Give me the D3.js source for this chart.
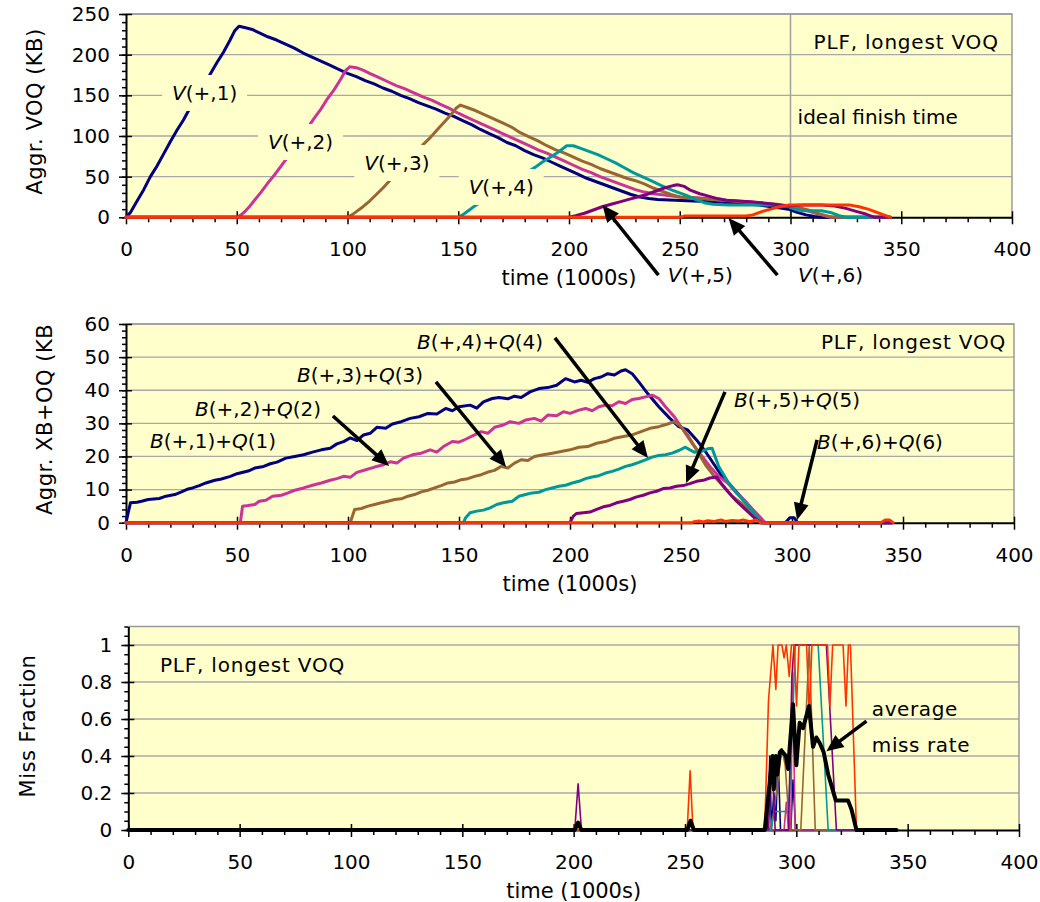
<!DOCTYPE html>
<html><head><meta charset="utf-8">
<script src="https://cdn.jsdelivr.net/npm/d3@7"></script>
<style>
body{margin:0;background:#fff;}
svg text{font-family:"DejaVu Sans",Verdana,sans-serif;fill:#000;}
</style></head><body>
<svg id="chart" width="1040" height="902"></svg>
<script>
// ---------------- data ----------------
const xTickValues = [0,50,100,150,200,250,300,350,400];
const voqTicks = [0,50,100,150,200,250];
const xbTicks = [0,10,20,30,40,50,60];
const missTicks = [0,0.2,0.4,0.6,0.8,1];
const missTickLabels = ["0","0.2","0.4","0.6","0.8","1"];
const seriesColors = ["#000080","#CC3399","#996633","#009999","#800080","#FF3300"];
const xTitle = "time (1000s)";
const panelNote = "PLF, longest VOQ";
const idealFinish = 300;

// Top: aggregate VOQ (KB)
const V1 = [[0,0],[2,6],[5,20],[8,34],[11,50],[14,63],[17,78],[20,93],[23,107],[26,120],[29,135],[32,149],[35,162],[38,176],[41,190],[44,203],[47,218],[49,229],[51,235],[54,233],[57,231],[60,227],[64,222],[68,218],[72,213],[76,208],[80,202],[84,197],[88,192],[92,187],[96,182],[100,177],[104,173],[108,168],[112,164],[116,159],[120,155],[124,150],[128,146],[132,141],[136,137],[140,133],[144,128],[148,124],[152,119],[156,114],[160,108],[164,103],[168,98],[172,92],[176,88],[180,82],[184,77],[188,73],[192,68],[196,63],[200,58],[204,53],[208,48],[212,44],[216,40],[220,36],[224,32],[228,28],[232,25],[236,23],[240,22],[248,21],[256,20],[266,19],[276,17],[286,15],[294,12],[299,10],[303,6],[307,3],[311,1],[314,0],[345,0]];
const V2 = [[0,0],[50,0],[52,3],[54,8],[56,14],[58,21],[61,31],[64,42],[67,52],[70,63],[73,74],[76,86],[79,98],[82,110],[85,122],[88,133],[91,146],[94,157],[97,170],[99,180],[101,185],[104,184],[107,181],[110,177],[114,172],[118,167],[122,162],[126,158],[130,153],[134,148],[138,144],[142,139],[146,134],[150,128],[154,123],[158,118],[162,113],[166,108],[170,103],[174,98],[178,93],[182,88],[186,83],[190,79],[194,74],[198,69],[202,64],[206,59],[210,55],[214,50],[218,46],[222,42],[226,38],[230,34],[234,31],[238,29],[244,27],[250,25],[258,24],[266,22],[276,20],[286,18],[294,15],[300,13],[305,10],[310,6],[314,3],[318,0],[345,0]];
const V3 = [[0,0],[100,0],[102,3],[104,7],[107,13],[110,20],[113,28],[116,36],[119,45],[122,53],[125,62],[128,71],[131,80],[134,89],[137,97],[140,106],[143,115],[146,124],[149,134],[151,138],[154,135],[158,131],[162,126],[166,121],[170,116],[174,111],[178,104],[182,99],[186,94],[190,88],[194,83],[198,79],[202,74],[206,69],[210,65],[214,60],[218,56],[222,52],[226,48],[230,45],[234,41],[238,36],[242,32],[246,28],[250,25],[256,24],[264,22],[274,20],[284,18],[294,16],[302,13],[308,9],[312,5],[316,2],[319,0],[345,0]];
const V4 = [[0,0],[150,0],[152,3],[155,9],[158,15],[161,20],[164,25],[167,31],[170,36],[173,41],[176,47],[179,52],[182,57],[185,62],[188,68],[191,73],[194,78],[197,84],[199,88],[202,88],[205,85],[209,81],[213,77],[217,72],[221,67],[225,61],[229,55],[233,50],[237,45],[241,40],[245,35],[249,31],[253,27],[257,22],[261,18],[265,16],[272,15],[282,15],[292,15],[298,14],[302,10],[306,8],[314,8],[318,6],[322,2],[325,0],[345,0]];
const V5 = [[0,0],[200,0],[203,2],[207,5],[211,9],[215,13],[219,16],[223,19],[227,22],[231,25],[235,28],[239,32],[243,36],[247,39],[249,40],[252,38],[255,33],[259,29],[263,26],[267,23],[271,21],[276,20],[282,19],[290,17],[298,14],[306,15],[314,15],[320,14],[325,11],[330,7],[334,4],[338,0],[345,0]];
const V6 = [[0,0],[250,0],[252,1.5],[260,1.5],[270,1.5],[280,1.5],[283,3],[287,7],[291,10],[295,13],[299,15],[310,15],[320,15],[327,15],[331,13],[335,10],[339,6],[343,2],[345,0]];

// Middle: aggregate XB+OQ (KB)
const B1 = [[0,0],[1,3],[2,6],[5,6.2],[7,6.5],[10,7],[15,7.3],[18,8],[22,8.5],[25,9.3],[28,10.2],[30,10.5],[33,11.2],[36,12],[40,12.8],[43,13.2],[47,14],[50,14.8],[55,15.6],[58,16.5],[62,17],[65,17.8],[68,18.3],[72,19.5],[76,20],[80,20.5],[84,21.3],[88,22],[92,22.5],[95,23.8],[98,24.5],[101,25.6],[104,24.8],[107,26.5],[110,27],[113,28.8],[117,28.5],[120,29.8],[124,30.5],[128,31.5],[132,32],[136,33],[140,32.8],[144,34.5],[147,33.8],[150,35],[155,35.5],[158,34.6],[161,36.5],[165,37.5],[168,37.8],[172,37.4],[175,38.2],[178,37.8],[182,39.5],[186,40.5],[190,40.8],[194,41.5],[198,43.5],[202,42.5],[205,43],[208,42.4],[211,43.5],[214,44],[217,45],[220,44.6],[223,45.8],[225,46.2],[228,45],[231,42.5],[235,39],[240,35],[245,31.5],[249,29],[253,28],[257,25],[261,21.5],[265,17.5],[268,14.5],[272,11.5],[276,8.5],[280,5.5],[284,2.5],[287,0],[297,0],[299,1.5],[301,1.5],[302.5,0],[345,0]];
const B2 = [[0,0],[51.5,0],[52.5,5],[55,5.2],[58,5.5],[60,6.5],[63,6.8],[66,8],[70,8.3],[73,9],[76,9.8],[80,10.5],[84,11.3],[88,12],[92,12.8],[95,13.3],[98,14],[101,13.7],[104,15.2],[108,16],[112,16.8],[116,17.5],[119,18.4],[122,18],[125,19.5],[129,20.5],[133,21],[137,22],[140,21.3],[143,23],[147,24.5],[150,24.3],[153,25.2],[157,26.5],[160,27.5],[163,27],[166,28.8],[170,29.5],[173,30.5],[177,30],[180,31],[184,31.5],[187,30.7],[190,32.5],[194,32.3],[197,33.5],[200,33],[204,34],[207,34.5],[210,33.8],[213,35],[216,35.5],[219,35.3],[222,36.5],[225,36],[228,37.2],[231,37.5],[234,38],[237,38.5],[240,37.5],[243,35],[247,32],[251,28],[255,24],[259,20.5],[263,17],[267,14],[271,12],[275,9],[279,6.5],[283,3.5],[288,0],[345,0]];
const B3 = [[0,0],[101,0],[102,2],[103,4],[106,4.3],[109,5],[112,5.5],[115,6],[118,6.5],[121,7],[124,7.2],[127,8],[130,8.5],[133,9.3],[136,9.8],[139,10.5],[142,11.2],[145,12],[148,12.3],[151,13],[154,13.3],[157,14],[160,14.5],[163,15.3],[166,15.8],[169,17],[172,16.5],[175,18],[178,19],[181,18.8],[184,20],[188,20.5],[192,21],[196,21.5],[200,22],[204,22.8],[208,23],[212,24],[216,24.5],[220,25.5],[224,26],[228,26.5],[232,27.5],[236,28.5],[240,29],[244,29.8],[247,30.5],[250,29],[253,26.5],[257,22],[261,17.5],[265,14],[269,11],[273,8],[277,6],[281,3.5],[286,0],[345,0]];
const B4 = [[0,0],[152,0],[153,1.5],[155,3],[158,3.5],[161,3.8],[164,4.5],[167,5.5],[170,6],[174,6.5],[177,8],[180,8.5],[183,9],[186,9.2],[189,10],[192,10.5],[195,11],[198,11.3],[201,12],[204,12.5],[207,13.3],[210,13.8],[213,14.2],[216,15],[219,15.5],[222,16.2],[225,17],[228,17.5],[231,18.2],[234,19],[237,19.8],[240,20.3],[243,20.5],[246,21],[249,21.8],[252,22.8],[254,22],[256,21.3],[259,21.5],[262,22.3],[264,22.5],[267,17],[271,12.5],[275,9],[279,6],[283,3],[286,0],[345,0]];
const B5 = [[0,0],[200,0],[201.5,2],[203,2.8],[206,3],[209,3.2],[212,4],[215,4.8],[218,5.2],[221,6],[224,6.5],[227,7],[230,7.8],[233,8.3],[236,9],[239,9.5],[242,10.3],[245,10.5],[248,11],[251,11.2],[254,11.8],[257,12.5],[260,12.8],[263,13.5],[266,13.8],[268,12],[271,9.5],[275,6.5],[279,4],[283,1.5],[286,0],[345,0]];
const B6 = [[0,0],[255,0],[256,0.3],[258,0.5],[260,0.2],[262,0.6],[265,0.4],[268,0.8],[270,0.4],[273,0.7],[276,0.5],[278,0.8],[281,0.3],[284,0.8],[286,0],[340,0],[342,0.8],[344,0.8],[345.5,0]];

// Bottom: miss fraction
const M1 = [[0,0],[287,0],[288.1,0.4],[288.8,0],[289.9,0.2],[290.8,0.05],[291.8,0.4],[292.9,0],[297.5,0],[298.5,0.27],[299.7,0],[345,0]];
const M2 = [[0,0],[294.5,0],[295.5,0.15],[296.5,0],[297.5,0],[298.3,0.85],[299.5,0],[345,0]];
const M3 = [[0,0],[288,0],[290,0.1],[293.5,0.44],[295,0.35],[297,0],[302,0],[305.8,1],[308.5,0],[345,0]];
const M4 = [[0,0],[288.5,0],[290.3,0.1],[296.5,0.1],[298.5,0.65],[299.5,1],[309.8,1],[314.3,0],[345,0]];
const M5 = [[0,0],[200.5,0],[202,0.25],[203.5,0],[287.5,0],[289,0.4],[290.5,0],[296.5,0],[298,0.83],[299,1],[313.5,1],[318,0],[345,0]];
const M6 = [[0,0],[251,0],[252.3,0.32],[253.6,0],[285.8,0],[287.5,0.7],[289.5,1],[290.8,0.76],[291.8,1],[293.5,1],[294.5,0.93],[295.5,1],[296.8,0.83],[297.8,1],[299,1],[300.1,0.67],[301.2,1],[304.6,1],[305.8,0.62],[307,1],[314,1],[315.1,0.67],[316.3,1],[321,1],[322.3,0.67],[323.4,1],[324.3,1],[327,0],[345,0]];
const MAvg = [[0,0],[200.5,0],[202,0.04],[203.5,0],[251,0],[252.5,0.05],[254,0],[285.8,0],[289.3,0.4],[289.9,0.22],[290.8,0.4],[291.5,0.3],[292.6,0.42],[293.3,0.43],[295.3,0.4],[296.3,0.33],[298.5,0.68],[300,0.35],[301.5,0.58],[303,0.55],[305.7,0.67],[307.5,0.45],[309,0.5],[310.5,0.47],[312.3,0.42],[314.3,0.3],[315.8,0.24],[317.7,0.16],[321,0.16],[323.2,0.16],[324.8,0.11],[327,0],[345,0]];

// ---------------- drawing ----------------
const svg = d3.select("#chart");
const GRID = "#A8A8A8";

function makePanel(p) {
  const x = d3.scaleLinear().domain([0, 400]).range([p.left, p.right]);
  const y = d3.scaleLinear().domain([0, p.ymax]).range([p.bottom, p.top]);
  const g = svg.append("g");
  g.append("rect").attr("x", p.left).attr("y", p.top)
    .attr("width", p.right - p.left).attr("height", p.bottom - p.top).attr("fill", "#FFFFCC");
  g.append("g").selectAll("line").data(p.yTicks.filter(v => v > 0)).join("line")
    .attr("x1", p.left).attr("x2", p.right).attr("y1", d => y(d)).attr("y2", d => y(d))
    .attr("stroke", GRID).attr("stroke-width", 1.3);
  g.append("path").attr("d", `M${p.left},${p.top}H${p.right}V${p.bottom}`)
    .attr("fill", "none").attr("stroke", "#999").attr("stroke-width", 1.5);
  return {g, x, y, p};
}

function styleAxis(a) {
  a.selectAll(".tick line").attr("stroke", "#000").attr("stroke-width", 1.5);
  a.selectAll("text").attr("font-size", 20).attr("font-family", "DejaVu Sans, Verdana, sans-serif").attr("fill", "#000");
  a.attr("font-family", null).attr("font-size", null);
}

function drawAxes(P, yMinor, yTicks, yLabels) {
  const {g, x, y, p} = P;
  const minorX = d3.range(0, 401, 10).filter(v => v % 50 !== 0);
  g.append("g").attr("transform", `translate(0,${p.bottom})`)
    .call(d3.axisBottom(x).tickValues(minorX).tickSize(5).tickFormat("").tickSizeOuter(0))
    .call(a => { a.select(".domain").remove(); styleAxis(a); });
  g.append("g").attr("transform", `translate(0,${p.bottom})`)
    .call(d3.axisTop(x).tickValues(xTickValues).tickSize(6).tickFormat("").tickSizeOuter(0))
    .call(a => { a.select(".domain").remove(); styleAxis(a); });
  g.append("g").attr("transform", `translate(0,${p.bottom})`)
    .call(d3.axisBottom(x).tickValues(xTickValues).tickSize(7).tickPadding(18).tickSizeOuter(0))
    .call(a => { a.select(".domain").attr("stroke", "#000").attr("stroke-width", 2); styleAxis(a); });

  g.append("g").attr("transform", `translate(${p.left},0)`)
    .call(d3.axisLeft(y).tickValues(yMinor).tickSize(4).tickFormat("").tickSizeOuter(0))
    .call(a => { a.select(".domain").remove(); styleAxis(a); });
  g.append("g").attr("transform", `translate(${p.left},0)`)
    .call(d3.axisRight(y).tickValues(yTicks).tickSize(6).tickFormat("").tickSizeOuter(0))
    .call(a => { a.select(".domain").remove(); styleAxis(a); });
  g.append("g").attr("transform", `translate(${p.left},0)`)
    .call(d3.axisLeft(y).tickValues(yTicks).tickSize(7).tickPadding(9).tickSizeOuter(0)
      .tickFormat((d, i) => yLabels ? yLabels[i] : d))
    .call(a => { a.select(".domain").attr("stroke", "#000").attr("stroke-width", 2); styleAxis(a); });

  g.append("text").attr("x", (p.left + p.right) / 2).attr("y", p.bottom + 61)
    .attr("text-anchor", "middle").attr("dominant-baseline", "central").attr("font-size", 21).text(xTitle);
}

function drawSeries(P, list, width) {
  const line = d3.line().x(d => P.x(d[0])).y(d => P.y(d[1]));
  P.g.append("g").selectAll("path").data(list).join("path")
    .attr("d", d => line(d.values)).attr("fill", "none")
    .attr("stroke", d => d.color).attr("stroke-width", d => d.width || width)
    .attr("stroke-linejoin", "round").attr("stroke-linecap", "round");
}

function richText(P, t, v, parts, opts = {}) {
  const tx = P.g.append("text").attr("x", P.x(t)).attr("y", P.y(v))
    .attr("text-anchor", opts.anchor || "middle").attr("dominant-baseline", "central")
    .attr("font-size", opts.size || 20);
  if (opts.spacing) tx.attr("letter-spacing", opts.spacing);
  parts.forEach(([s, it]) => tx.append("tspan").attr("font-style", it ? "italic" : "normal").text(s));
  return tx;
}

function boxedLabel(P, t, v, parts) {
  P.g.append("rect").attr("x", P.x(t) - 42.5).attr("y", P.y(v) - 18).attr("width", 85).attr("height", 36).attr("fill", "#FFFFCC");
  richText(P, t, v, parts);
}

function arrow(P, t0, v0, t1, v1) {
  const x0 = P.x(t0), y0 = P.y(v0), x1 = P.x(t1), y1 = P.y(v1);
  const dx = x1 - x0, dy = y1 - y0, L = Math.hypot(dx, dy), ux = dx / L, uy = dy / L;
  const hl = 17, hw = 7.5;
  const bx = x1 - ux * hl, by = y1 - uy * hl;
  P.g.append("line").attr("x1", x0).attr("y1", y0).attr("x2", bx + ux * 2).attr("y2", by + uy * 2)
    .attr("stroke", "#000").attr("stroke-width", 3.5);
  P.g.append("path").attr("d", `M${x1},${y1}L${bx - uy * hw},${by + ux * hw}L${bx + uy * hw},${by - ux * hw}Z`).attr("fill", "#000");
}

function yTitle(cx, cy, text, anchor, clipTop) {
  const holder = svg.append("g");
  if (clipTop !== undefined) {
    svg.append("clipPath").attr("id", "clipT").append("rect").attr("x", 0).attr("y", clipTop).attr("width", 100).attr("height", 600);
    holder.attr("clip-path", "url(#clipT)");
  }
  holder.append("text").attr("transform", `translate(${cx},${cy}) rotate(-90)`)
    .attr("text-anchor", anchor).attr("dominant-baseline", "central").attr("font-size", 21)
    .attr("letter-spacing", 0.5).text(text);
}

// ---- Top panel ----
const P1 = makePanel({left: 126, right: 1012, top: 14, bottom: 217.3, ymax: 250, yTicks: voqTicks});
P1.g.append("line").attr("x1", P1.x(idealFinish)).attr("x2", P1.x(idealFinish))
  .attr("y1", P1.y(250)).attr("y2", P1.y(0)).attr("stroke", "#A0A0A0").attr("stroke-width", 1.5);
drawAxes(P1, d3.range(0, 251, 10), voqTicks);
drawSeries(P1, [V1, V2, V3, V4, V5, V6].map((v, i) => ({values: v, color: seriesColors[i]})), 3);
boxedLabel(P1, 35.5, 152.9, [["V", true], ["(+,1)", false]]);
boxedLabel(P1, 78.8, 92.6, [["V", true], ["(+,2)", false]]);
boxedLabel(P1, 122.3, 66.8, [["V", true], ["(+,3)", false]]);
boxedLabel(P1, 169.4, 37.3, [["V", true], ["(+,4)", false]]);
richText(P1, 259.3, -71, [["V", true], ["(+,5)", false]]);
richText(P1, 318.1, -71, [["V", true], ["(+,6)", false]]);
arrow(P1, 240.4, -71, 215.1, 15.1);
arrow(P1, 294.1, -71, 272, -0.9);
richText(P1, 394, 215.6, [[panelNote, false]], {anchor: "end", spacing: 0.8});
richText(P1, 303.2, 123.3, [["ideal finish time", false]], {anchor: "start"});
yTitle(35, 111.5, "Aggr. VOQ (KB)", "middle");

// ---- Middle panel ----
const P2 = makePanel({left: 126, right: 1014, top: 324, bottom: 522.7, ymax: 60, yTicks: xbTicks});
drawAxes(P2, d3.range(0, 61, 2), xbTicks);
drawSeries(P2, [B1, B2, B3, B4, B5, B6].map((v, i) => ({values: v, color: seriesColors[i]})), 3);
const bq = n => [["B", true], [`(+,${n})+`, false], ["Q", true], [`(${n})`, false]];
richText(P2, 39.2, 24.7, bq(1));
richText(P2, 59.5, 34.3, bq(2));
richText(P2, 105.4, 44.6, bq(3));
richText(P2, 159.5, 54.6, bq(4));
richText(P2, 302.3, 37.0, bq(5));
richText(P2, 339.6, 24.4, bq(6));
arrow(P2, 93.2, 32.2, 118.5, 17.1);
arrow(P2, 139.6, 42.5, 171.2, 16.8);
arrow(P2, 193.2, 55.8, 235.1, 19.5);
arrow(P2, 269.8, 39.5, 252.3, 12.0);
arrow(P2, 311.3, 25.0, 302.3, 0.8);
richText(P2, 396.4, 54.6, [[panelNote, false]], {anchor: "end", spacing: 0.8});
yTitle(45, 515, "Aggr. XB+OQ (KB)", "start", 322);

// ---- Bottom panel ----
const P3 = makePanel({left: 128.3, right: 1019, top: 626.5, bottom: 830, ymax: 1.1, yTicks: missTicks});
drawAxes(P3, d3.range(0, 23).map(i => i * 0.05), missTicks, missTickLabels);
drawSeries(P3, [M1, M2, M3, M4, M5, M6].map((v, i) => ({values: v, color: seriesColors[i]})), 1.6);
drawSeries(P3, [{values: MAvg, color: "#000"}], 4);
richText(P3, 14.2, 0.891, [[panelNote, false]], {anchor: "start", spacing: 0.8});
richText(P3, 333.9, 0.652, [["average", false]], {anchor: "start", spacing: 0.6});
richText(P3, 333.9, 0.462, [["miss rate", false]], {anchor: "start", spacing: 0.6});
arrow(P3, 331.5, 0.589, 313.5, 0.426);
yTitle(28, 726, "Miss Fraction", "middle");
</script></body></html>
